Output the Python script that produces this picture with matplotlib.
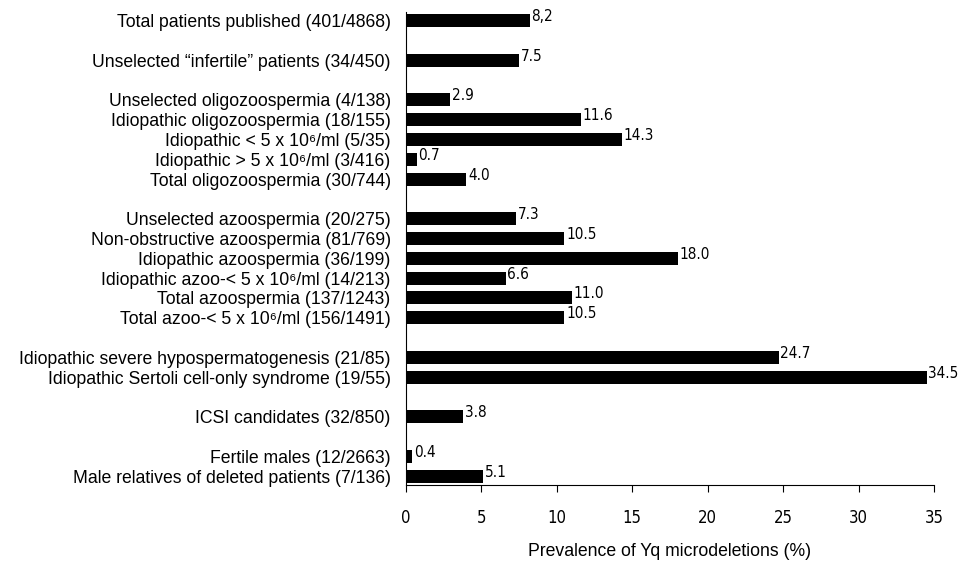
#!/usr/bin/env python3
"""
Prevalence of Yq microdeletions in the different patient groups (horizontal bars)
"""

from matplotlib import pyplot as plt
from matplotlib import font_manager

# Categories from top to bottom, with the row they sit on (gaps between groups)
categories = [
    'Total patients published (401/4868)',
    'Unselected \u201cinfertile\u201d patients (34/450)',
    'Unselected oligozoospermia (4/138)',
    'Idiopathic oligozoospermia (18/155)',
    'Idiopathic < 5 x 10\u2076/ml (5/35)',
    'Idiopathic > 5 x 10\u2076/ml (3/416)',
    'Total oligozoospermia (30/744)',
    'Unselected azoospermia (20/275)',
    'Non-obstructive azoospermia (81/769)',
    'Idiopathic azoospermia (36/199)',
    'Idiopathic azoo-< 5 x 10\u2076/ml (14/213)',
    'Total azoospermia (137/1243)',
    'Total azoo-< 5 x 10\u2076/ml (156/1491)',
    'Idiopathic severe hypospermatogenesis (21/85)',
    'Idiopathic Sertoli cell-only syndrome (19/55)',
    'ICSI candidates (32/850)',
    'Fertile males (12/2663)',
    'Male relatives of deleted patients (7/136)',
]
rows = [0, 2, 4, 5, 6, 7, 8, 10, 11, 12, 13, 14, 15, 17, 18, 20, 22, 23]
values = [8.2, 7.5, 2.9, 11.6, 14.3, 0.7, 4.0, 7.3, 10.5, 18.0, 6.6, 11.0, 10.5,
          24.7, 34.5, 3.8, 0.4, 5.1]
value_labels = ['8,2', '7.5', '2.9', '11.6', '14.3', '0.7', '4.0', '7.3', '10.5',
                '18.0', '6.6', '11.0', '10.5', '24.7', '34.5', '3.8', '0.4', '5.1']
x_ticks = [0, 5, 10, 15, 20, 25, 30, 35]

if __name__ == '__main__':
    plt.rcParams['font.family'] = ['Liberation Sans', 'DejaVu Sans']

    # Condensed face for the numbers, if one is installed
    names = {f.name for f in font_manager.fontManager.ttflist}
    narrow = None
    for cand in ['Liberation Sans Narrow', 'DejaVu Sans Condensed']:
        if cand in names:
            narrow = dict(family=cand)
            break
    if narrow is None:
        narrow = dict(family='DejaVu Sans', stretch='condensed')

    fig = plt.figure(figsize=(9.62, 5.62), dpi=100)
    ax = fig.add_axes([0.422, 0.137, 0.549, 0.842])

    ax.barh(rows, values, height=0.66, color='black')

    # Value next to each bar
    for r, v, lab in zip(rows, values, value_labels):
        ax.text(v + 0.12, r - 0.2, lab, va='center', ha='left',
                fontsize=11, **narrow)

    ax.set_yticks(rows)
    ax.set_yticklabels(categories, fontsize=12.7)
    ax.tick_params(axis='y', length=0, pad=11)
    ax.set_ylim(23.45, -0.45)

    ax.set_xlim(0, 35)
    ax.set_xticks(x_ticks)
    ax.set_xticklabels([str(t) for t in x_ticks], fontsize=12, **narrow)
    ax.tick_params(axis='x', direction='out', length=5, pad=12)

    ax.spines['top'].set_visible(False)
    ax.spines['right'].set_visible(False)

    ax.set_xlabel('Prevalence of Yq microdeletions (%)', fontsize=12.7, labelpad=12)

    plt.savefig('out.png', dpi=100)
